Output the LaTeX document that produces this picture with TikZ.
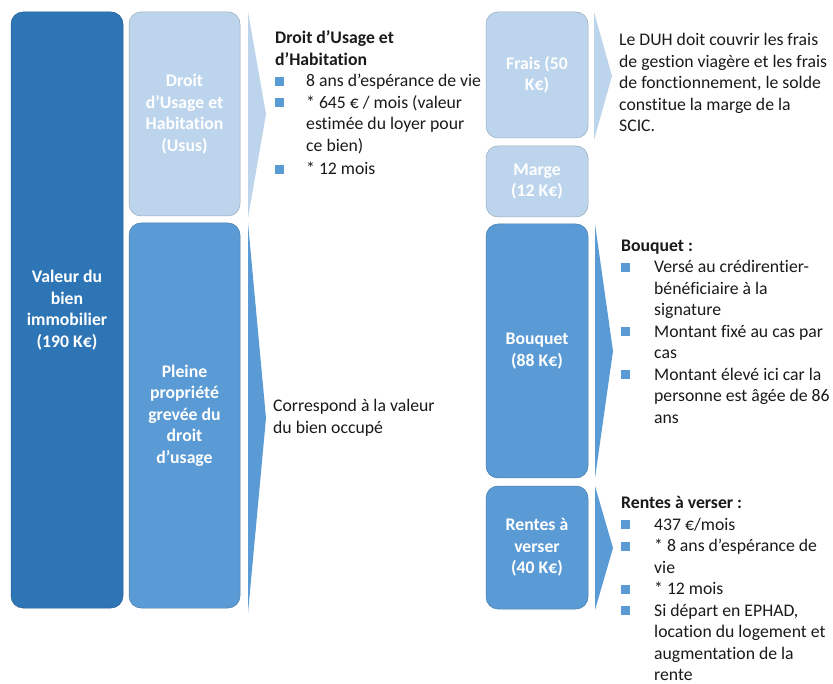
\documentclass[tikz,border=0pt]{standalone}
\usepackage{fontspec}
\setmainfont{Carlito}[RawFeature={-liga;-clig;-calt;-dlig}]
\definecolor{dk}{HTML}{2E75B6}
\definecolor{md}{HTML}{5B9BD5}
\definecolor{lt}{HTML}{BDD5EC}
\definecolor{bulc}{HTML}{5B9BD5}
\definecolor{txt}{HTML}{1A1A1A}
\newcommand{\bsq}{\textcolor{bulc}{\rule[1pt]{9pt}{9pt}}}
\newcommand{\bitem}[1][31pt]{\makebox[#1][l]{\bsq}}
\newcommand{\bcont}[1][31pt]{\hspace*{#1}}
\begin{document}
\begin{tikzpicture}[x=1pt,y=-1pt,
  blk/.style={rounded corners=12pt, draw=#1!80!black, line width=0.5pt, fill=#1, text=white, align=center,
    font=\bfseries\fontsize{17.7}{21.5}\selectfont, inner sep=0pt},
  body/.style={anchor=north west, align=left, inner sep=0pt, text=txt, font=\fontsize{17.7}{21.5}\selectfont},
  chev/.style={fill=#1, draw=none}]
\useasboundingbox (0,0) rectangle (833,684);
\fill[white] (0,0) rectangle (833,684);

% boxes
\node[blk=dk, minimum width=112pt, minimum height=596pt] (valeur) at (67,310) {Valeur du\\bien\\immobilier\\(190 K€)};
\node[blk=lt, minimum width=111pt, minimum height=204pt] (duh) at (184.5,114) {Droit\\d’Usage et\\Habitation\\(Usus)};
\node[blk=md, minimum width=111pt, minimum height=385pt] (pleine) at (184.5,415.5) {Pleine\\propriété\\grevée du\\droit\\d’usage};
\node[blk=lt, minimum width=102pt, minimum height=126pt] (frais) at (537,75) {Frais (50\\K€)};
\node[blk=lt, minimum width=102pt, minimum height=71pt] (marge) at (537,181.5) {Marge\\(12 K€)};
\node[blk=md, minimum width=102pt, minimum height=254pt] (bouquet) at (537,351) {Bouquet\\(88 K€)};
\node[blk=md, minimum width=102pt, minimum height=123pt] (rentes) at (537,547.5) {Rentes à\\verser\\(40 K€)};

% chevrons
\fill[chev=lt] (248,12) -- (266,114) -- (248,218) -- cycle;
\fill[chev=md] (248,223) -- (266,418) -- (248,613) -- cycle;
\fill[chev=lt] (594,12) -- (612,76) -- (594,140) -- cycle;
\fill[chev=md] (595,224) -- (613,351) -- (595,478) -- cycle;
\fill[chev=md] (595,486) -- (613,548) -- (595,610) -- cycle;

% texts
\node[body] (t1) at (275,28.5) {\strut\textbf{Droit d’Usage et}\\
\textbf{d’Habitation}\\
\bitem 8 ans d’espérance de vie\\
\bitem * 645 € / mois (valeur\\
\bcont estimée du loyer pour\\
\bcont ce bien)\\[2pt]
\bitem * 12 mois};

\node[body] (t2) at (273,396.5) {\strut Correspond à la valeur\\du bien occupé};

\node[body] (t3) at (619,30.5) {\strut Le DUH doit couvrir les frais\\
de gestion viagère et les frais\\
de fonctionnement, le solde\\
constitue la marge de la\\
SCIC.};

\node[body] (t4) at (621,236) {\strut\textbf{Bouquet :}\\
\bitem[29pt] Versé au crédirentier-\\
\bcont[29pt] bénéficiaire à la\\
\bcont[29pt] signature\\
\bitem[29pt] Montant fixé au cas par\\
\bcont[29pt] cas\\
\bitem[29pt] Montant élevé ici car la\\
\bcont[29pt] personne est âgée de 86\\
\bcont[29pt] ans};

\node[body] (t5) at (621,493.5) {\strut\textbf{Rentes à verser :}\\
\bitem[29pt] 437 €/mois\\
\bitem[29pt] * 8 ans d’espérance de\\
\bcont[29pt] vie\\
\bitem[29pt] * 12 mois\\
\bitem[29pt] Si départ en EPHAD,\\
\bcont[29pt] location du logement et\\
\bcont[29pt] augmentation de la\\
\bcont[29pt] rente};
\end{tikzpicture}
\end{document}
